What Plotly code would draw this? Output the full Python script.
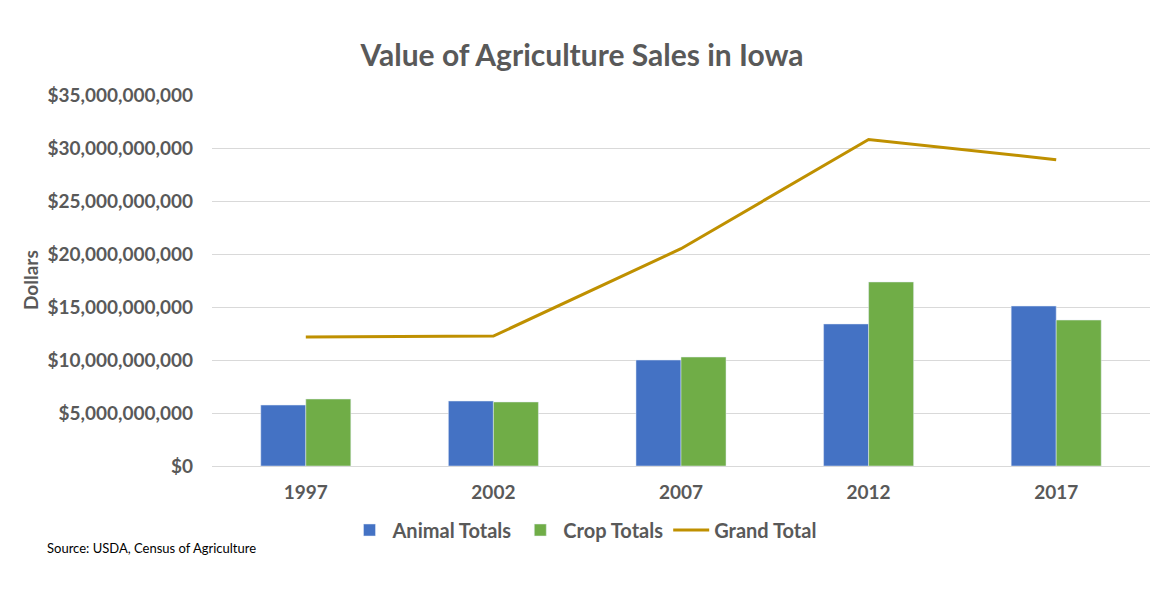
import plotly.graph_objects as go

years = ["1997", "2002", "2007", "2012", "2017"]
animal_totals = [5.75e9, 6.13e9, 10.0e9, 13.4e9, 15.09e9]
crop_totals = [6.32e9, 6.04e9, 10.28e9, 17.36e9, 13.77e9]
grand_total = [12.17e9, 12.26e9, 20.5e9, 30.8e9, 28.9e9]

FONT = "Lato"
GRAY = "#595959"
OFF = 8  # page body margin offset

fig = go.Figure()
fig.add_trace(go.Bar(x=years, y=animal_totals, name="Animal Totals", marker_color="#4472C4"))
fig.add_trace(go.Bar(x=years, y=crop_totals, name="Crop Totals", marker_color="#70AD47"))
fig.add_trace(go.Scatter(x=years, y=grand_total, name="Grand Total", mode="lines",
                         line=dict(color="#BF9000", width=3)))

fig.update_layout(
    width=1163, height=598,
    margin=dict(l=212 - OFF, r=13 + OFF, t=95 - OFF, b=132 + OFF),
    plot_bgcolor="white", paper_bgcolor="white",
    barmode="group", bargap=0.52, bargroupgap=0,
    font=dict(family=FONT, color=GRAY),
    title=dict(text="Value of Agriculture Sales in Iowa", x=(582 - OFF) / 1163, xref="container",
               xanchor="center", y=1 - (55 - OFF) / 598, yref="container", yanchor="middle",
               font=dict(size=30, family=FONT, color=GRAY, weight="bold")),
    legend=dict(orientation="h", x=(584 - OFF) / 1163, xref="container", xanchor="center",
                y=1 - (530 - OFF) / 598, yref="container", yanchor="middle",
                font=dict(size=20, family=FONT, color=GRAY, weight="bold"),
                itemwidth=36, tracegroupgap=0),
    showlegend=True,
)
fig.update_xaxes(showgrid=False, showline=True, linecolor="#D9D9D9", linewidth=1,
                 ticks="outside", ticklen=9, tickcolor="rgba(0,0,0,0)", automargin=False,
                 tickfont=dict(size=19, family=FONT, color=GRAY, weight="bold"))
fig.update_yaxes(range=[0, 35e9], dtick=5e9, tickformat="$,.0f", showgrid=True,
                 gridcolor="#D9D9D9", gridwidth=1, zeroline=False, automargin=False,
                 ticklabelstandoff=18,
                 tickfont=dict(size=19, family=FONT, color=GRAY, weight="bold"))

fig.add_annotation(text="Dollars", xref="paper", yref="paper",
                   x=(30 - 212) / 938, y=(466 - 280) / 371, textangle=-90,
                   showarrow=False, xanchor="center", yanchor="middle",
                   font=dict(size=19, family=FONT, color=GRAY, weight="bold"))
fig.add_annotation(text="Source: USDA, Census of Agriculture", xref="paper", yref="paper",
                   x=(45 - 212) / 938, y=(466 - 548) / 371, showarrow=False,
                   xanchor="left", yanchor="middle",
                   font=dict(size=13, family=FONT, color="#000000"))

fig.write_html("out.html")
